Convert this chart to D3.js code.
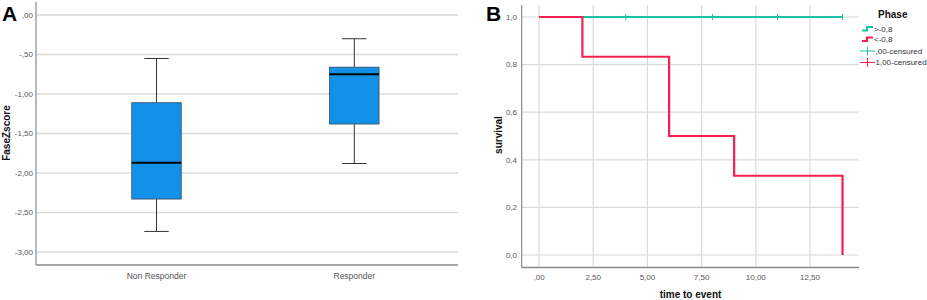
<!DOCTYPE html>
<html><head><meta charset="utf-8">
<script src="https://cdn.jsdelivr.net/npm/d3@7"></script>
<style>
body{margin:0;background:#fff;}
svg{display:block;font-family:"Liberation Sans",Arial,sans-serif;}
</style></head>
<body><svg id="c" width="927" height="300"></svg>
<script>
// Panel A data
const groups = ["Non Responder", "Responder"];
const whiskerLow = [-2.74, -1.88];
const q1 = [-2.33, -1.38];
const median = [-1.87, -0.75];
const q3 = [-1.11, -0.66];
const whiskerHigh = [-0.55, -0.30];
const aTicks = [0, -0.5, -1, -1.5, -2, -2.5, -3];
const aTickLabels = [",00", "-,50", "-1,00", "-1,50", "-2,00", "-2,50", "-3,00"];

// Panel B data
const redTimes = [0, 2, 6, 9, 14];
const redSurv = [1, 0.833, 0.5, 0.333, 0];
const tealTimes = [0, 14];
const tealSurv = [1, 1];
const tealCensor = [4, 8, 11, 14];
const bYTicks = [0, 0.2, 0.4, 0.6, 0.8, 1.0];
const bYTickLabels = ["0,0", "0,2", "0,4", "0,6", "0,8", "1,0"];
const bXTicks = [0, 2.5, 5, 7.5, 10, 12.5];
const bXTickLabels = [",00", "2,50", "5,00", "7,50", "10,00", "12,50"];
const legendLabels = [">-0,8", "<-0,8", ",00-censured", "1,00-censured"];

const svg = d3.select("#c");
const gridC = "#dadada", axisC = "#8a8a8a", tickC = "#555";
const blue = "#1192e8", teal = "#1dbfa6", red = "#f5204e";

// ---------- Panel A ----------
const ay = d3.scaleLinear().domain([-3.165, 0.165]).range([265, 2]);
const ax = d3.scalePoint().domain(groups).range([156.5, 354.3]);
const aL = 36, aR = 458;
const gA = svg.append("g");
gA.selectAll("line.grid").data(aTicks).join("line")
  .attr("x1", aL).attr("x2", aR).attr("y1", d => ay(d)).attr("y2", d => ay(d))
  .attr("stroke", gridC).attr("stroke-width", 1.5);
gA.selectAll("text.yt").data(aTicks).join("text")
  .attr("x", 33).attr("y", d => ay(d)).attr("dy", "0.35em")
  .attr("text-anchor", "end").attr("font-size", 8).attr("fill", tickC)
  .text((d, i) => aTickLabels[i]);
gA.append("line").attr("x1", aL).attr("x2", aL).attr("y1", ay.range()[1]).attr("y2", ay.range()[0]).attr("stroke", axisC).attr("stroke-width", 1.2);
gA.append("line").attr("x1", aL).attr("x2", aR).attr("y1", 265).attr("y2", 265).attr("stroke", axisC).attr("stroke-width", 1.5);

const boxW = 49.5, capW = 24.5;
groups.forEach((g, i) => {
  const cx = ax(g);
  gA.append("line").attr("x1", cx).attr("x2", cx).attr("y1", ay(whiskerHigh[i])).attr("y2", ay(q3[i])).attr("stroke", "#333").attr("stroke-width", 1);
  gA.append("line").attr("x1", cx).attr("x2", cx).attr("y1", ay(q1[i])).attr("y2", ay(whiskerLow[i])).attr("stroke", "#333").attr("stroke-width", 1);
  gA.append("line").attr("x1", cx - capW / 2).attr("x2", cx + capW / 2).attr("y1", ay(whiskerHigh[i])).attr("y2", ay(whiskerHigh[i])).attr("stroke", "#333").attr("stroke-width", 1);
  gA.append("line").attr("x1", cx - capW / 2).attr("x2", cx + capW / 2).attr("y1", ay(whiskerLow[i])).attr("y2", ay(whiskerLow[i])).attr("stroke", "#333").attr("stroke-width", 1);
  gA.append("rect").attr("x", cx - boxW / 2).attr("width", boxW).attr("y", ay(q3[i])).attr("height", ay(q1[i]) - ay(q3[i]))
    .attr("fill", blue).attr("stroke", "#3a4a5a").attr("stroke-width", 0.8);
  gA.append("line").attr("x1", cx - boxW / 2).attr("x2", cx + boxW / 2).attr("y1", ay(median[i])).attr("y2", ay(median[i])).attr("stroke", "#000").attr("stroke-width", 2);
  gA.append("text").attr("x", cx).attr("y", 278.5).attr("text-anchor", "middle").attr("font-size", 8.5).attr("fill", tickC).text(g);
});
gA.append("text").attr("transform", "translate(9.5,133) rotate(-90)").attr("text-anchor", "middle")
  .attr("font-size", 10).attr("font-weight", "bold").attr("fill", "#111").text("FaseZscore");
svg.append("text").attr("x", 2).attr("y", 21).attr("font-size", 21).attr("font-weight", "bold").text("A");

// ---------- Panel B ----------
const bx = d3.scaleLinear().domain([-0.8, 14.76]).range([521.7, 859]);
const by = d3.scaleLinear().domain([0, 1]).range([255, 17]);
const bTop = 5, bBot = 267.5, bL = 521.7, bR = 859;
const gB = svg.append("g");
gB.selectAll("line.hg").data(bYTicks).join("line")
  .attr("x1", bL).attr("x2", bR).attr("y1", d => by(d)).attr("y2", d => by(d))
  .attr("stroke", gridC).attr("stroke-width", 1.2);
gB.selectAll("line.vg").data(bXTicks).join("line")
  .attr("x1", d => bx(d)).attr("x2", d => bx(d)).attr("y1", bTop).attr("y2", bBot)
  .attr("stroke", gridC).attr("stroke-width", 1.2);
gB.selectAll("text.yt").data(bYTicks).join("text")
  .attr("x", 517).attr("y", d => by(d)).attr("dy", "0.35em")
  .attr("text-anchor", "end").attr("font-size", 8).attr("fill", tickC)
  .text((d, i) => bYTickLabels[i]);
gB.selectAll("text.xt").data(bXTicks).join("text")
  .attr("x", d => bx(d)).attr("y", 279.5).attr("text-anchor", "middle")
  .attr("font-size", 8).attr("fill", tickC).text((d, i) => bXTickLabels[i]);
gB.append("line").attr("x1", bL).attr("x2", bL).attr("y1", bTop).attr("y2", bBot).attr("stroke", axisC).attr("stroke-width", 1.2);
gB.append("line").attr("x1", bL).attr("x2", bR).attr("y1", bBot).attr("y2", bBot).attr("stroke", axisC).attr("stroke-width", 1.5);

const stepLine = d3.line().x(d => bx(d[0])).y(d => by(d[1])).curve(d3.curveStepAfter);
gB.append("path").datum(tealTimes.map((t, i) => [t, tealSurv[i]]))
  .attr("d", stepLine).attr("fill", "none").attr("stroke", teal).attr("stroke-width", 2.2);
gB.selectAll("line.cens").data(tealCensor).join("line")
  .attr("x1", d => bx(d)).attr("x2", d => bx(d)).attr("y1", by(1) - 3).attr("y2", by(1) + 3)
  .attr("stroke", teal).attr("stroke-width", 1);
gB.append("path").datum(redTimes.map((t, i) => [t, redSurv[i]]))
  .attr("d", stepLine).attr("fill", "none").attr("stroke", red).attr("stroke-width", 2.2);

gB.append("text").attr("transform", "translate(502,135) rotate(-90)").attr("text-anchor", "middle")
  .attr("font-size", 10).attr("font-weight", "bold").attr("fill", "#111").text("survival");
gB.append("text").attr("x", 690.5).attr("y", 298).attr("text-anchor", "middle")
  .attr("font-size", 10).attr("font-weight", "bold").attr("fill", "#111").text("time to event");
svg.append("text").attr("x", 486).attr("y", 20.5).attr("font-size", 21).attr("font-weight", "bold").text("B");

// Legend
const gL = svg.append("g");
gL.append("text").attr("x", 878).attr("y", 18).attr("font-size", 10).attr("font-weight", "bold").attr("fill", "#111").text("Phase");
const legY = [29, 39.5, 51, 62.5];
const legCol = [teal, red, teal, red];
legendLabels.forEach((lab, i) => {
  const y = legY[i];
  if (i < 2) {
    gL.append("path").attr("d", `M862,${y + 1.5}H867V${y - 2}H873`).attr("fill", "none").attr("stroke", legCol[i]).attr("stroke-width", 2.2);
  } else {
    gL.append("line").attr("x1", 860).attr("x2", 875).attr("y1", y).attr("y2", y).attr("stroke", legCol[i]).attr("stroke-width", 1);
    gL.append("line").attr("x1", 867.5).attr("x2", 867.5).attr("y1", y - 4.5).attr("y2", y + 4.5).attr("stroke", legCol[i]).attr("stroke-width", 1);
  }
  gL.append("text").attr("x", i < 2 ? 874 : 875.5).attr("y", y).attr("dy", "0.35em").attr("font-size", 8).attr("fill", "#333").text(lab);
});
</script></body></html>
